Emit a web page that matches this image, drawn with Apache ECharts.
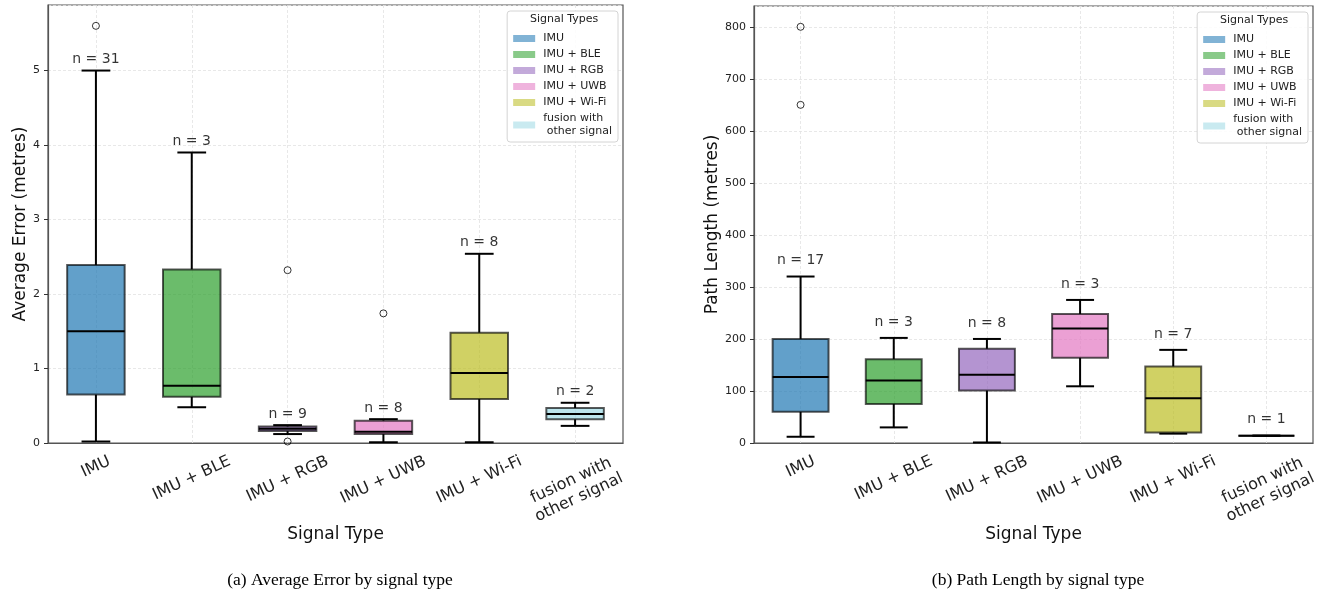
<!DOCTYPE html>
<html>
<head>
<meta charset="utf-8">
<script src="https://cdn.jsdelivr.net/npm/echarts@6/dist/echarts.min.js"></script>
<style>
  html, body { margin: 0; padding: 0; background: #fff; }
  #chart { width: 1322px; height: 592px; }
</style>
</head>
<body>
<div id="chart"></div>
<script>
const categories = ['IMU', 'IMU + BLE', 'IMU + RGB', 'IMU + UWB', 'IMU + Wi-Fi', 'fusion with\nother signal']
const legendNames = ['IMU', 'IMU + BLE', 'IMU + RGB', 'IMU + UWB', 'IMU + Wi-Fi', 'fusion with\n other signal']

// each box: [lower whisker, Q1, median, Q3, upper whisker]
const errorBoxes = [
  [0.02, 0.65, 1.50, 2.39, 5.00],
  [0.48, 0.62, 0.77, 2.33, 3.90],
  [0.12, 0.16, 0.19, 0.22, 0.24],
  [0.01, 0.12, 0.15, 0.30, 0.32],
  [0.01, 0.59, 0.94, 1.48, 2.54],
  [0.23, 0.32, 0.39, 0.47, 0.54],
]
const errorOutliers = [[0, 5.6], [2, 2.32], [2, 0.02], [3, 1.74]]
const errorCounts = [31, 3, 9, 8, 8, 2]

const pathBoxes = [
  [12, 60, 127, 200, 320],
  [30, 75, 120, 161, 202],
  [1, 101, 131, 181, 200],
  [109, 164, 220, 248, 275],
  [18, 20, 86, 147, 179],
  [14, 14, 14, 14, 14],
]
const pathOutliers = [[0, 800], [0, 650]]
const pathCounts = [17, 3, 8, 3, 7, 1]

const boxColors = [
  'rgba(31,119,180,0.7)',
  'rgba(44,160,44,0.7)',
  'rgba(148,103,189,0.7)',
  'rgba(227,119,194,0.7)',
  'rgba(188,189,34,0.7)',
  'rgba(158,218,229,0.7)',
]

const font = 'DejaVu Sans'
const labelSize = 16
const labelRot = 25 * Math.PI / 180
const labelPad = 9
const measureCtx = document.createElement('canvas').getContext('2d')

const chart = echarts.init(document.getElementById('chart'))

function renderBox(params, api) {
  const i = api.value(0)
  const lo = api.coord([i, api.value(1)])
  const q1 = api.coord([i, api.value(2)])
  const med = api.coord([i, api.value(3)])
  const q3 = api.coord([i, api.value(4)])
  const hi = api.coord([i, api.value(5)])
  const band = api.size([1, 0])[0]
  const bw = band * 0.6
  const cw = bw / 2
  const x = lo[0]
  const black = { stroke: '#000', lineWidth: 2 }
  return {
    type: 'group',
    children: [
      { type: 'line', shape: { x1: x, y1: lo[1], x2: x, y2: q1[1] }, style: black },
      { type: 'line', shape: { x1: x, y1: q3[1], x2: x, y2: hi[1] }, style: black },
      { type: 'line', shape: { x1: x - cw / 2, y1: lo[1], x2: x + cw / 2, y2: lo[1] }, style: black },
      { type: 'line', shape: { x1: x - cw / 2, y1: hi[1], x2: x + cw / 2, y2: hi[1] }, style: black },
      {
        type: 'rect',
        shape: { x: x - bw / 2, y: q3[1], width: bw, height: q1[1] - q3[1] },
        style: { fill: boxColors[params.dataIndex], stroke: 'rgba(0,0,0,0.65)', lineWidth: 2 },
      },
      { type: 'line', shape: { x1: x - bw / 2, y1: med[1], x2: x + bw / 2, y2: med[1] }, style: black },
    ],
  }
}

// rotated tick labels, centred under each tick like matplotlib's ha='center'
function renderCategoryLabel(params, api) {
  const p = api.coord([api.value(0), 0])
  const text = categories[params.dataIndex]
  const lines = text.split('\n')
  measureCtx.font = labelSize + 'px "' + font + '"'
  const w = Math.max(...lines.map((l) => measureCtx.measureText(l).width))
  const h = lines.length * labelSize * 1.17
  const bh = w * Math.sin(labelRot) + h * Math.cos(labelRot)
  return {
    type: 'text',
    x: p[0],
    y: p[1] + labelPad + bh / 2,
    rotation: labelRot,
    style: {
      text,
      fontSize: labelSize,
      fontFamily: font,
      lineHeight: labelSize * 1.17,
      fill: '#222',
      align: 'center',
      verticalAlign: 'middle',
    },
  }
}

function xAxisFor(gridIndex) {
  return {
    type: 'category',
    gridIndex,
    data: categories,
    boundaryGap: true,
    axisLine: { lineStyle: { color: '#555', width: 1.2 } },
    axisTick: { alignWithLabel: true, length: 4, lineStyle: { color: '#333' } },
    axisLabel: { show: false },
    splitLine: { show: true, interval: 0, alignWithLabel: true, lineStyle: { type: [3, 2], color: '#e2e2e2', width: 0.8 } },
    name: 'Signal Type',
    nameLocation: 'middle',
    nameGap: 83,
    nameTextStyle: { fontSize: 17, color: '#111' },
  }
}

function yAxisFor(gridIndex, max, interval, name, nameGap) {
  return {
    type: 'value',
    gridIndex,
    min: 0,
    max,
    interval,
    axisLine: { show: true, lineStyle: { color: '#555', width: 1.2 } },
    axisTick: { show: true, length: 4, lineStyle: { color: '#333' } },
    axisLabel: { fontSize: 11, color: '#222', margin: 8, showMaxLabel: false },
    splitLine: { show: true, lineStyle: { type: [3, 2], color: '#e2e2e2', width: 0.8 } },
    name,
    nameLocation: 'middle',
    nameGap,
    nameTextStyle: { fontSize: 17, color: '#111' },
  }
}

function boxSeries(idx, boxes, outliers, counts, labelGap) {
  return [
    {
      type: 'custom',
      xAxisIndex: idx,
      yAxisIndex: idx,
      renderItem: renderBox,
      encode: { x: 0, y: [1, 2, 3, 4, 5] },
      data: boxes.map((b, i) => [i, ...b]),
      z: 3,
    },
    {
      type: 'scatter',
      xAxisIndex: idx,
      yAxisIndex: idx,
      symbol: 'circle',
      symbolSize: 7,
      itemStyle: { color: 'rgba(0,0,0,0)', borderColor: '#000', borderWidth: 1 },
      data: outliers,
      z: 4,
    },
    {
      type: 'scatter',
      xAxisIndex: idx,
      yAxisIndex: idx,
      symbolSize: 0,
      silent: true,
      data: boxes.map((b, i) => [i, b[4]]),
      label: {
        show: true,
        position: 'top',
        distance: labelGap,
        fontSize: 14,
        color: '#000',
        formatter: (p) => 'n = ' + counts[p.dataIndex],
      },
      z: 5,
    },
    {
      type: 'custom',
      xAxisIndex: idx,
      yAxisIndex: idx,
      silent: true,
      clip: false,
      renderItem: renderCategoryLabel,
      encode: { x: 0, y: 1 },
      data: categories.map((c, i) => [i, 0]),
    },
  ]
}

function legendFor(right, top) {
  return {
    orient: 'vertical',
    right,
    top,
    data: legendNames,
    icon: 'rect',
    itemWidth: 22,
    itemHeight: 7,
    itemGap: 3,
    padding: [21, 6, 4, 6],
    borderColor: '#d4d4d4',
    borderWidth: 1,
    borderRadius: 3,
    backgroundColor: 'rgba(255,255,255,0.85)',
    textStyle: { fontSize: 11, lineHeight: 13, color: '#222', padding: [0, 0, 0, 3] },
    selectedMode: false,
  }
}

const legendSeries = legendNames.map((name, i) => ({
  name,
  type: 'scatter',
  xAxisIndex: 0,
  yAxisIndex: 0,
  data: [],
  itemStyle: { color: boxColors[i] },
}))

const captionStyle = { fontFamily: 'Liberation Serif', fontSize: 17.5, fontWeight: 'normal', color: '#000' }

const option = {
  animation: false,
  textStyle: { fontFamily: font },
  grid: [
    { left: 48, right: 699, top: 5, bottom: 149, show: true, borderColor: '#555', borderWidth: 1.2 },
    { left: 754, right: 9, top: 6, bottom: 149, show: true, borderColor: '#555', borderWidth: 1.2 },
  ],
  xAxis: [xAxisFor(0), xAxisFor(1)],
  yAxis: [
    yAxisFor(0, 5.88, 1, 'Average Error (metres)', 19),
    yAxisFor(1, 840, 100, 'Path Length (metres)', 33),
  ],
  legend: [legendFor(704, 11), legendFor(14, 12)],
  title: [
    { text: '(a) Average Error by signal type', left: 335, top: 566, textAlign: 'center', textStyle: captionStyle },
    { text: '(b) Path Length by signal type', left: 1033, top: 566, textAlign: 'center', textStyle: captionStyle },
  ],
  graphic: [
    { type: 'text', left: 530, top: 14, z: 100, style: { text: 'Signal Types', fontSize: 11, fill: '#222', fontFamily: font } },
    { type: 'text', left: 1220, top: 15, z: 100, style: { text: 'Signal Types', fontSize: 11, fill: '#222', fontFamily: font } },
  ],
  series: [
    ...boxSeries(0, errorBoxes, errorOutliers, errorCounts, 4),
    ...boxSeries(1, pathBoxes, pathOutliers, pathCounts, 9),
    ...legendSeries,
  ],
}

chart.setOption(option)
window.addEventListener('resize', () => chart.resize())
</script>
</body>
</html>
